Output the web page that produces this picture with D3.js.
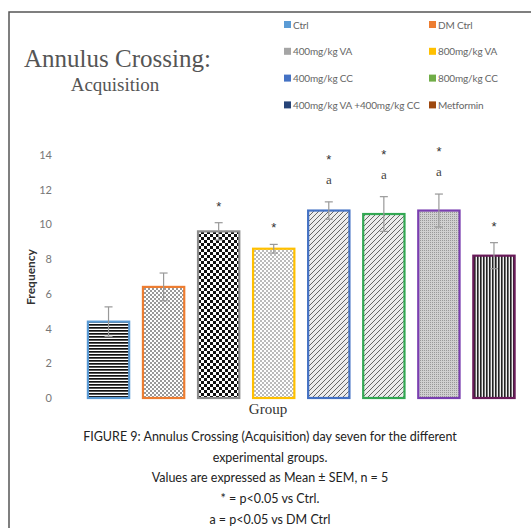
<!DOCTYPE html>
<html>
<head>
<meta charset="utf-8">
<script src="https://cdn.jsdelivr.net/npm/d3@7"></script>
<style>
  body { margin: 0; background: #fff; }
  svg { display: block; }
</style>
</head>
<body>
<div id="chart"></div>
<script>
var groups = ["Ctrl", "DM Ctrl", "400mg/kg VA", "800mg/kg VA", "400mg/kg CC", "800mg/kg CC", "400mg/kg VA +400mg/kg CC", "Metformin"];
var means = [4.4, 6.4, 9.6, 8.6, 10.8, 10.6, 10.8, 8.2];
var sems = [0.85, 0.8, 0.5, 0.25, 0.5, 1.0, 0.95, 0.75];
var signif = ["", "", "*", "*", "*a", "*a", "*a", "*"];
var yTicks = [0, 2, 4, 6, 8, 10, 12, 14];
var legendColors = ["#5b9bd5", "#ed7d31", "#a5a5a5", "#ffc000", "#4472c4", "#70ad47", "#264478", "#9e480e"];
var borderColors = ["#5b9bd5", "#ed7d31", "#8c8c8c", "#ffc000", "#4472c4", "#33a853", "#7a3fb0", "#6a1b5a"];
var captionLines = [
  "FIGURE 9: Annulus Crossing (Acquisition) day seven  for the different",
  "experimental  groups.",
  "Values are expressed  as Mean \u00b1 SEM, n = 5",
  "* = p<0.05 vs Ctrl.",
  "a = p<0.05 vs DM Ctrl"
];

var width = 531, height = 528;

var svg = d3.select("#chart").append("svg")
    .attr("width", width)
    .attr("height", height);

// hatch patterns, one per bar
var defs = svg.append("defs");
function pat(id, w, h) {
    return defs.append("pattern").attr("id", id)
        .attr("patternUnits", "userSpaceOnUse")
        .attr("width", w).attr("height", h);
}
var p;
p = pat("p0", 4, 3);
p.append("rect").attr("width", 4).attr("height", 3).attr("fill", "#fff");
p.append("rect").attr("width", 4).attr("height", 1.7).attr("fill", "#111");

p = pat("p1", 4, 4);
p.append("rect").attr("width", 4).attr("height", 4).attr("fill", "#fff");
p.append("rect").attr("width", 2).attr("height", 2).attr("fill", "#999");
p.append("rect").attr("x", 2).attr("y", 2).attr("width", 2).attr("height", 2).attr("fill", "#999");

p = pat("p2", 6, 6);
p.append("rect").attr("width", 6).attr("height", 6).attr("fill", "#fff");
p.append("rect").attr("width", 3).attr("height", 3).attr("fill", "#111");
p.append("rect").attr("x", 3).attr("y", 3).attr("width", 3).attr("height", 3).attr("fill", "#111");

p = pat("p3", 4, 4);
p.append("rect").attr("width", 4).attr("height", 4).attr("fill", "#fff");
p.append("rect").attr("width", 2).attr("height", 2).attr("fill", "#bbb");
p.append("rect").attr("x", 2).attr("y", 2).attr("width", 2).attr("height", 2).attr("fill", "#bbb");

["p4", "p5"].forEach(function (id) {
    var q = pat(id, 5, 5);
    q.append("rect").attr("width", 5).attr("height", 5).attr("fill", "#ececec");
    q.append("path").attr("d", "M-1,6 L6,-1 M-1,1 L1,-1 M4,6 L6,4")
        .attr("stroke", "#666").attr("stroke-width", 1);
});

p = pat("p6", 2, 2);
p.append("rect").attr("width", 2).attr("height", 2).attr("fill", "#d0d0d0");
p.append("rect").attr("width", 1).attr("height", 1).attr("fill", "#999");

p = pat("p7", 3, 4);
p.append("rect").attr("width", 3).attr("height", 4).attr("fill", "#eee");
p.append("rect").attr("width", 1.6).attr("height", 4).attr("fill", "#222");

// outer frame
svg.append("path")
    .attr("d", "M9," + height + " L9,12 L" + width + ",12")
    .attr("fill", "none")
    .attr("stroke", "#555")
    .attr("stroke-width", 1.5);

// title
svg.append("text")
    .attr("x", 24).attr("y", 67)
    .style("font-family", "Liberation Serif, serif")
    .style("font-size", "25px")
    .style("fill", "#555")
    .text("Annulus Crossing:");
svg.append("text")
    .attr("x", 115).attr("y", 91)
    .attr("text-anchor", "middle")
    .style("font-family", "Liberation Serif, serif")
    .style("font-size", "19px")
    .style("fill", "#555")
    .text("Acquisition");

// legend
var leg = svg.append("g").selectAll("g")
    .data(groups)
    .enter().append("g")
    .attr("transform", function (d, i) {
        return "translate(" + (i % 2 === 0 ? 284 : 429) + "," + (25 + Math.floor(i / 2) * 26.8) + ")";
    });
leg.append("rect")
    .attr("x", 0).attr("y", -4)
    .attr("width", 7).attr("height", 7)
    .attr("fill", function (d, i) { return legendColors[i]; });
leg.append("text")
    .attr("x", 9).attr("y", 3.5)
    .style("font-family", "Lato, sans-serif")
    .style("font-size", "10px")
    .style("letter-spacing", "-0.15px")
    .style("fill", "#666")
    .text(function (d) { return d; });

// scales
var x = d3.scaleBand().domain(groups).range([81, 521.5]).paddingInner(0.25).paddingOuter(0.125);
var y = d3.scaleLinear().domain([0, 14]).range([398, 155]);

var yAxis = svg.append("g")
    .attr("transform", "translate(56,0)")
    .call(d3.axisLeft(y).tickValues(yTicks).tickSize(0).tickPadding(4));
yAxis.select(".domain").remove();
yAxis.selectAll("text")
    .style("font-family", "Lato, sans-serif")
    .style("font-size", "11px")
    .style("fill", "#777");

svg.append("text")
    .attr("transform", "translate(35,277) rotate(-90)")
    .attr("text-anchor", "middle")
    .style("font-family", "Lato, sans-serif")
    .style("font-size", "12px")
    .style("font-weight", "bold")
    .style("fill", "#333")
    .text("Frequency");

// bars
var bars = svg.append("g").selectAll("g")
    .data(groups)
    .enter().append("g");

bars.append("rect")
    .attr("x", function (d) { return x(d); })
    .attr("y", function (d, i) { return y(means[i]); })
    .attr("width", x.bandwidth())
    .attr("height", function (d, i) { return y(0) - y(means[i]); })
    .attr("fill", function (d, i) { return "url(#p" + i + ")"; })
    .attr("stroke", function (d, i) { return borderColors[i]; })
    .attr("stroke-width", 2.2);

// error bars
var cx = function (d) { return x(d) + x.bandwidth() / 2; };
bars.append("line")
    .attr("x1", cx).attr("x2", cx)
    .attr("y1", function (d, i) { return y(means[i] + sems[i]); })
    .attr("y2", function (d, i) { return y(means[i] - sems[i]); })
    .attr("stroke", "#999").attr("stroke-width", 1.2);
[1, -1].forEach(function (s) {
    bars.append("line")
        .attr("x1", function (d) { return cx(d) - 4; })
        .attr("x2", function (d) { return cx(d) + 4; })
        .attr("y1", function (d, i) { return y(means[i] + s * sems[i]); })
        .attr("y2", function (d, i) { return y(means[i] + s * sems[i]); })
        .attr("stroke", "#999").attr("stroke-width", 1.2);
});

// significance marks
bars.each(function (d, i) {
    var top = y(means[i] + sems[i]);
    var g = d3.select(this);
    var hasA = signif[i].indexOf("a") >= 0;
    if (hasA) {
        g.append("text")
            .attr("x", cx(d)).attr("y", top - 18)
            .attr("text-anchor", "middle")
            .style("font-family", "Liberation Serif, serif")
            .style("font-size", "13px")
            .style("fill", "#444")
            .text("a");
    }
    if (signif[i].indexOf("*") >= 0) {
        g.append("text")
            .attr("x", cx(d)).attr("y", top - (hasA ? 38 : 12))
            .attr("text-anchor", "middle")
            .style("font-family", "Liberation Sans, sans-serif")
            .style("font-size", "13px")
            .style("fill", "#333")
            .text("*");
    }
});

// x title
svg.append("text")
    .attr("x", 268).attr("y", 414)
    .attr("text-anchor", "middle")
    .style("font-family", "Liberation Serif, serif")
    .style("font-size", "15px")
    .style("fill", "#333")
    .text("Group");

// caption
svg.append("g").selectAll("text")
    .data(captionLines)
    .enter().append("text")
    .attr("x", 270)
    .attr("y", function (d, i) { return 441 + i * 20.7; })
    .attr("text-anchor", "middle")
    .style("font-family", "Lato, sans-serif")
    .style("font-size", "12.5px")
    .style("fill", "#222")
    .text(function (d) { return d; });
</script>
</body>
</html>
